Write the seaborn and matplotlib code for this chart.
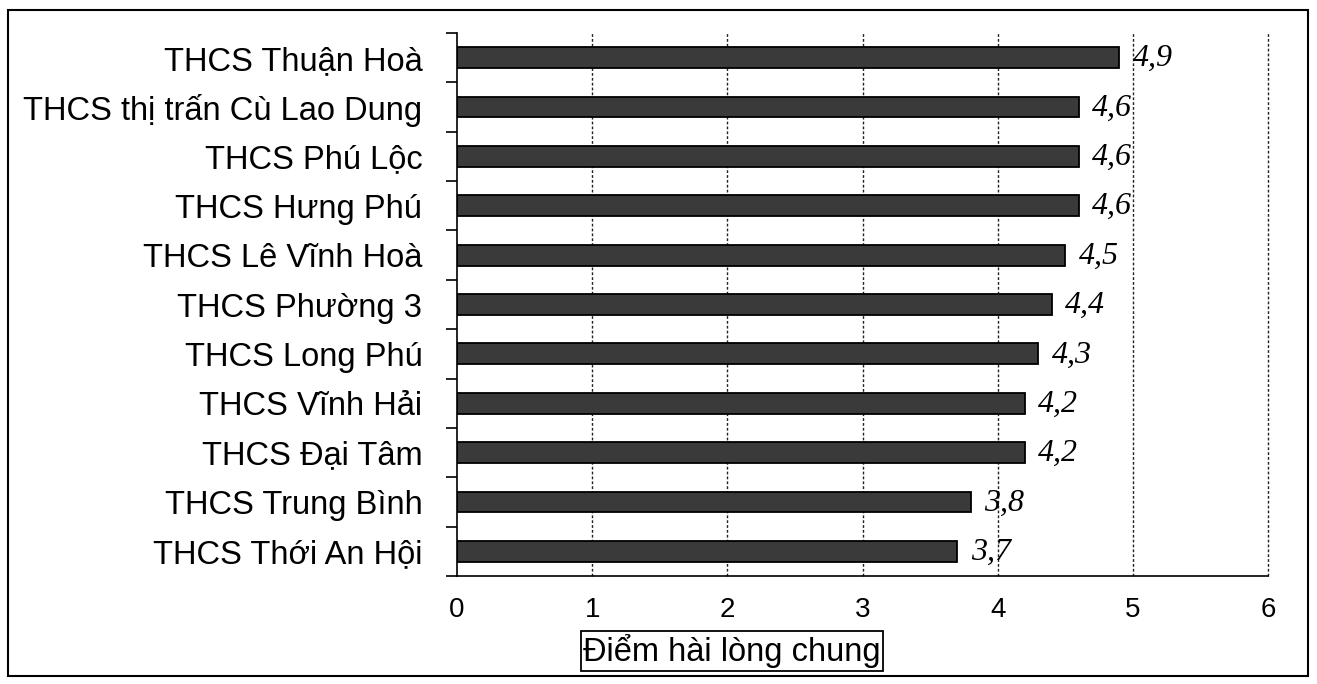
import matplotlib
matplotlib.use("Agg")
import matplotlib.pyplot as plt
import seaborn as sns
import pandas as pd
from matplotlib.patches import Rectangle
from matplotlib.ticker import FixedLocator

schools = ["THCS Thuận Hoà", "THCS thị trấn Cù Lao Dung", "THCS Phú Lộc", "THCS Hưng Phú",
           "THCS Lê Vĩnh Hoà", "THCS Phường 3", "THCS Long Phú", "THCS Vĩnh Hải",
           "THCS Đại Tâm", "THCS Trung Bình", "THCS Thới An Hội"]
scores = [4.9, 4.6, 4.6, 4.6, 4.5, 4.4, 4.3, 4.2, 4.2, 3.8, 3.7]
x_ticks = [0, 1, 2, 3, 4, 5, 6]
x_label = "Điểm hài lòng chung"

sns.set_theme(style="white")
plt.rcParams['font.family'] = ['Liberation Sans', 'DejaVu Sans']

df = pd.DataFrame({"school": schools, "score": scores})

fig = plt.figure(figsize=(13.17, 6.84), dpi=100)
ax = fig.add_axes([457/1317, 1-576/684, (1268-457)/1317, (576-33)/684])

sns.barplot(data=df, x="score", y="school", orient="h", color="#3a3a3a",
            edgecolor="black", linewidth=1.3, width=0.42, saturation=1, ax=ax)

ax.set_xlim(0, 6)
ax.set_ylim(len(schools) - 0.5, -0.5)
ax.set_xticks(x_ticks)
ax.set_xticklabels([str(t) for t in x_ticks], fontsize=20)
ax.tick_params(axis='x', direction='out', length=8, width=1.2, color='black', pad=7)
ax.tick_params(axis='y', which='major', length=0, pad=25, labelsize=23.5)
ax.yaxis.set_minor_locator(FixedLocator([i - 0.5 for i in range(len(schools) + 1)]))
ax.tick_params(axis='y', which='minor', direction='out', length=8, width=1.2, color='black', left=True)
for lbl in ax.get_yticklabels():
    lbl.set_color('black')
for lbl in ax.get_xticklabels():
    lbl.set_color('black')

for x in x_ticks[1:]:
    ax.axvline(x, color='#222222', linestyle=(0, (2, 1.5)), linewidth=1.0, zorder=0, clip_on=False)

for s in ['top', 'right']:
    ax.spines[s].set_visible(False)
for s in ['left', 'bottom']:
    ax.spines[s].set_color('black')
    ax.spines[s].set_linewidth(1.2)

ax.set_ylabel("")
ax.set_xlabel(x_label, fontsize=23.5, color='black',
              bbox=dict(boxstyle='square,pad=0.08', facecolor='white', edgecolor='black', linewidth=1.3))
ax.xaxis.set_label_coords((732 - 457) / (1268 - 457), (576 - 651) / (576 - 33))
ax.xaxis.label.set_va('center')

for i, v in enumerate(scores):
    ax.text(v + 0.1, i + 0.02, f"{v:.1f}".replace('.', ','), va='center', ha='left',
            fontsize=23, style='italic', family=['Liberation Serif', 'DejaVu Serif'], color='black')

fig.patches.append(Rectangle((8/1317, 1-676/684), (1308-8)/1317, (676-10)/684,
                             transform=fig.transFigure, fill=False, edgecolor='black', linewidth=1.5))

fig.savefig("out.png", dpi=100)
